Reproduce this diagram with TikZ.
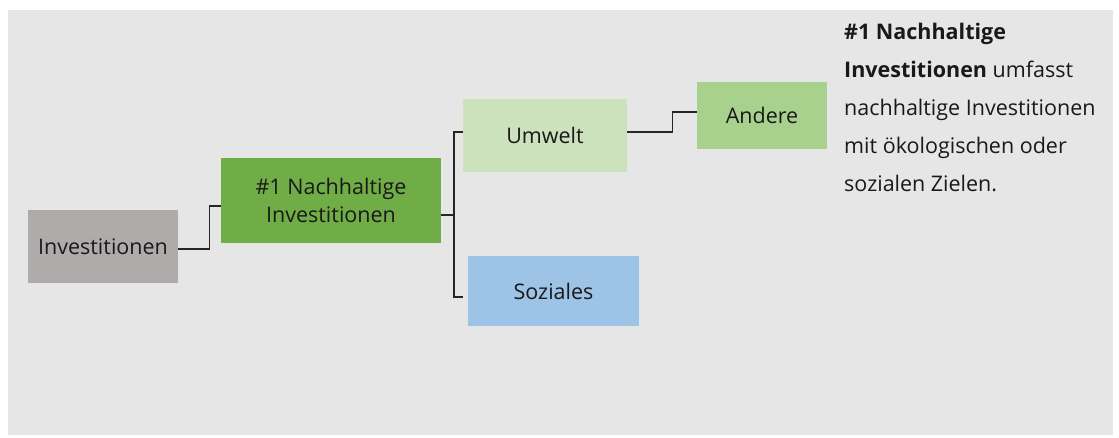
\documentclass[tikz,border=0pt]{standalone}
\usepackage{fontspec}
\setmainfont{Open Sans}
\usepackage{tikz}
\usetikzlibrary{positioning}

\definecolor{hintergrund}{HTML}{E6E6E6}
\definecolor{grau}{HTML}{AFABAB}
\definecolor{gruen}{HTML}{70AD47}
\definecolor{hellgruen}{HTML}{CCE2BC}
\definecolor{mittelgruen}{HTML}{A9D18E}
\definecolor{hellblau}{HTML}{9DC3E6}

\begin{document}
\begin{tikzpicture}[
                x=1pt, y=-1pt,
                box/.style={rectangle, inner sep=0pt, align=center, text=black!90, font=\fontsize{21.5}{28}\selectfont},
                link/.style={line width=1.2pt, draw=black!85}
            ]
                \useasboundingbox (0,0) rectangle (1119,437);
                \fill[hintergrund] (8,10) rectangle (1113,435);

                % Knoten
                \node[box, fill=grau, minimum width=150pt, minimum height=73pt] (inv) at (103,246.5) {Investitionen};
                \node[box, fill=gruen, minimum width=220pt, minimum height=85pt] (nach) at (331,200.5) {\#1 Nachhaltige\\Investitionen};
                \node[box, fill=hellgruen, minimum width=164pt, minimum height=73pt] (umw) at (545,135.5) {Umwelt};
                \node[box, fill=mittelgruen, minimum width=130pt, minimum height=67pt] (and) at (762,115.5) {Andere};
                \node[box, fill=hellblau, minimum width=171pt, minimum height=70pt] (soz) at (553.5,291) {Soziales};

                % Erklaerung rechts
                \node[anchor=base west, align=left, inner sep=0pt, text=black!90, font=\fontsize{21.5}{38}\selectfont] (text) at (844,191)
                    {\textbf{\#1 Nachhaltige}\\\textbf{Investitionen} umfasst\\nachhaltige Investitionen\\mit ökologischen oder\\sozialen Zielen.};

                % Verbindungen
                \draw[link] ([yshift=-2.5pt]inv.east) -- ++(31,0) |- ([yshift=-5.5pt]nach.west);

                \coordinate (gabel) at (454,215);
                \draw[link] ([yshift=-14.5pt]nach.east) -- (gabel);
                \draw[link] (gabel) |- ([yshift=3.5pt]umw.west);
                \draw[link] (gabel) |- ([xshift=-5pt,yshift=-6pt]soz.west);

                \draw[link] ([yshift=3.5pt]umw.east) -- ++(45,0) |- ([yshift=3.5pt]and.west);

            \end{tikzpicture}
\end{document}
